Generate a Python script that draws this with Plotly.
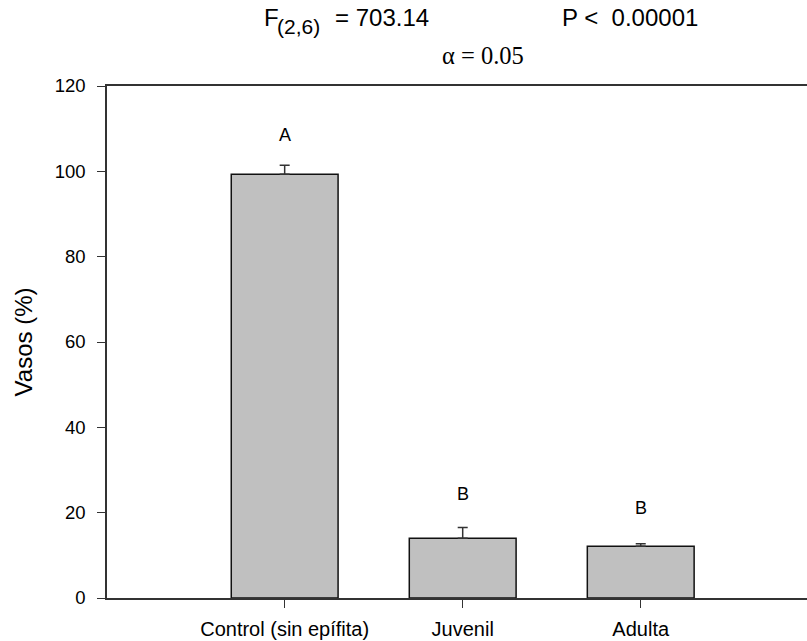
import plotly.graph_objects as go

categories = ["Control (sin epífita)", "Juvenil", "Adulta"]
means = [99.3, 14.0, 12.1]
errors = [2.1, 2.5, 0.6]
letters = ["A", "B", "B"]
letter_y = [108.4, 24.4, 21.1]
y_ticks = [0, 20, 40, 60, 80, 100, 120]

SANS = "Liberation Sans, Arial, sans-serif"
SERIF = "Liberation Serif, Times New Roman, serif"

fig = go.Figure()
fig.add_trace(go.Bar(
    x=categories, y=means, width=0.6,
    marker=dict(color="#c0c0c0", line=dict(color="#111111", width=1.5)),
    error_y=dict(type="data", array=errors, arrayminus=[0] * len(errors), symmetric=False,
                 color="#333333", thickness=1.5, width=5),
    showlegend=False,
))

for c, l, ly in zip(categories, letters, letter_y):
    fig.add_annotation(x=c, y=ly, text=l, showarrow=False,
                       font=dict(family=SANS, size=18, color="black"))


def top_text(text, x, xanchor, yshift, size, family=SANS):
    fig.add_annotation(xref="paper", yref="paper", x=x, y=1.0, yshift=yshift,
                       xanchor=xanchor, yanchor="middle", showarrow=False,
                       text=text, font=dict(family=family, size=size, color="black"))


top_text("F", 0.2213, "left", 69, 24)
top_text("(2,6)", 0.2394, "left", 60, 21)
top_text("= 703.14", 0.4634, "right", 69, 24)
top_text("P &lt;  0.00001", 0.647, "left", 69, 24)
top_text("α = 0.05", 0.5377, "center", 30.5, 24.5, SERIF)

fig.update_layout(
    width=807, height=641,
    margin=dict(l=107, r=0, t=86, b=43),
    plot_bgcolor="white", paper_bgcolor="white",
    xaxis=dict(
        type="category", range=[-0.998, 2.934],
        showline=True, linecolor="#333333", linewidth=1.5, mirror=True,
        ticks="outside", ticklen=8, tickcolor="#333333", tickwidth=1.2,
        showgrid=False, zeroline=False, ticklabelstandoff=4,
        tickfont=dict(family=SANS, size=20, color="black"),
    ),
    yaxis=dict(
        range=[0, 120], tickvals=y_ticks,
        showline=True, linecolor="#333333", linewidth=1.5, mirror=False,
        ticks="outside", ticklen=8, tickcolor="#333333", tickwidth=1.2,
        showgrid=False, zeroline=False, ticklabelstandoff=8,
        tickfont=dict(family=SANS, size=18.5, color="black"),
        title=dict(text="Vasos (%)", standoff=15,
                   font=dict(family=SANS, size=24, color="black")),
    ),
)

fig.write_html("out.html", config={"displayModeBar": False},
               post_script="document.body.style.margin='0';")
